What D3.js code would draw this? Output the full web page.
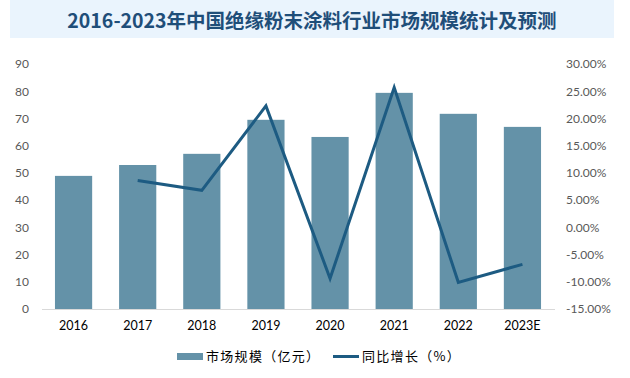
<!DOCTYPE html>
<html>
<head>
<meta charset="utf-8">
<script src="https://cdn.jsdelivr.net/npm/d3@7"></script>
<style>
  body { margin: 0; background: #fff; }
  svg { display: block; }
</style>
</head>
<body>
<div id="chart"></div>
<script>
// chart data
const years = ["2016", "2017", "2018", "2019", "2020", "2021", "2022", "2023E"];
const marketSize = [48.9, 52.9, 57.0, 69.5, 63.2, 79.4, 71.7, 66.9];
const growth = [null, 8.6, 6.8, 22.3, -9.4, 25.7, -10.1, -6.8];
const leftTicks = [0, 10, 20, 30, 40, 50, 60, 70, 80, 90];
const rightTicks = [-15, -10, -5, 0, 5, 10, 15, 20, 25, 30];

const W = 630, H = 378;
const plot = { left: 41.5, right: 554.5, top: 64, bottom: 309 };

const svg = d3.select("#chart").append("svg")
    .attr("width", W)
    .attr("height", H);

// title banner
svg.append("rect")
    .attr("x", 10).attr("y", 0)
    .attr("width", 604).attr("height", 38)
    .attr("fill", "#eaf4fd");

svg.append("text")
    .attr("x", 312).attr("y", 28)
    .attr("text-anchor", "middle")
    .style("font-family", "'Noto Sans CJK SC', sans-serif")
    .style("font-weight", "bold")
    .style("font-size", "19.5px")
    .style("fill", "#1f4e79")
    .text("2016-2023年中国绝缘粉末涂料行业市场规模统计及预测");

// scales
const x = d3.scaleBand()
    .domain(years)
    .range([plot.left, plot.right])
    .paddingInner(0.42)
    .paddingOuter(0.21);

const yL = d3.scaleLinear().domain([0, 90]).range([plot.bottom, plot.top]);
const yR = d3.scaleLinear().domain([-15, 30]).range([plot.bottom, plot.top]);

const tickFont = "Lato, 'Liberation Sans', sans-serif";

// left axis labels
svg.append("g")
    .attr("transform", "translate(29,0)")
    .call(d3.axisLeft(yL).tickValues(leftTicks).tickSize(0).tickPadding(0))
    .call(g => g.select(".domain").remove())
    .selectAll("text")
    .style("font-family", tickFont)
    .style("font-size", "12px")
    .style("fill", "#595959");

// right axis labels
svg.append("g")
    .attr("transform", "translate(566,0)")
    .call(d3.axisRight(yR).tickValues(rightTicks).tickSize(0).tickPadding(0)
        .tickFormat(d => d.toFixed(2) + "%"))
    .call(g => g.select(".domain").remove())
    .selectAll("text")
    .style("font-family", tickFont)
    .style("font-size", "12px")
    .style("fill", "#595959");

// bars
svg.selectAll(".bar")
    .data(years)
    .enter()
    .append("rect")
    .attr("class", "bar")
    .attr("x", d => x(d))
    .attr("y", (d, i) => yL(marketSize[i]))
    .attr("width", x.bandwidth())
    .attr("height", (d, i) => yL(0) - yL(marketSize[i]))
    .attr("fill", "#6492a8");

// baseline + category labels
svg.append("g")
    .attr("transform", "translate(0," + plot.bottom + ")")
    .call(d3.axisBottom(x).tickSize(0).tickPadding(12))
    .call(g => g.select(".domain").attr("stroke", "#d9d9d9").attr("stroke-width", 1))
    .selectAll("text")
    .style("font-family", tickFont)
    .style("font-size", "12.5px")
    .style("fill", "#000");

// growth line
const line = d3.line()
    .defined(d => d.v !== null)
    .x(d => x(d.year) + x.bandwidth() / 2)
    .y(d => yR(d.v));

svg.append("path")
    .datum(years.map((y, i) => ({ year: y, v: growth[i] })))
    .attr("d", line)
    .attr("fill", "none")
    .attr("stroke", "#1d5b82")
    .attr("stroke-width", 3)
    .attr("stroke-linejoin", "miter");

// legend
const legendFont = "'Noto Sans CJK SC', sans-serif";
const legend = svg.append("g");

legend.append("rect")
    .attr("x", 177).attr("y", 353)
    .attr("width", 26).attr("height", 7)
    .attr("fill", "#6492a8");

legend.append("text")
    .attr("x", 206).attr("y", 361)
    .style("font-family", legendFont)
    .style("font-size", "13px")
    .style("letter-spacing", "1.3px")
    .style("fill", "#000")
    .text("市场规模（亿元）");

legend.append("line")
    .attr("x1", 333).attr("x2", 359)
    .attr("y1", 356.5).attr("y2", 356.5)
    .attr("stroke", "#1d5b82")
    .attr("stroke-width", 3);

legend.append("text")
    .attr("x", 362).attr("y", 361)
    .style("font-family", legendFont)
    .style("font-size", "13px")
    .style("letter-spacing", "1.3px")
    .style("fill", "#000")
    .text("同比增长（%）");
</script>
</body>
</html>
